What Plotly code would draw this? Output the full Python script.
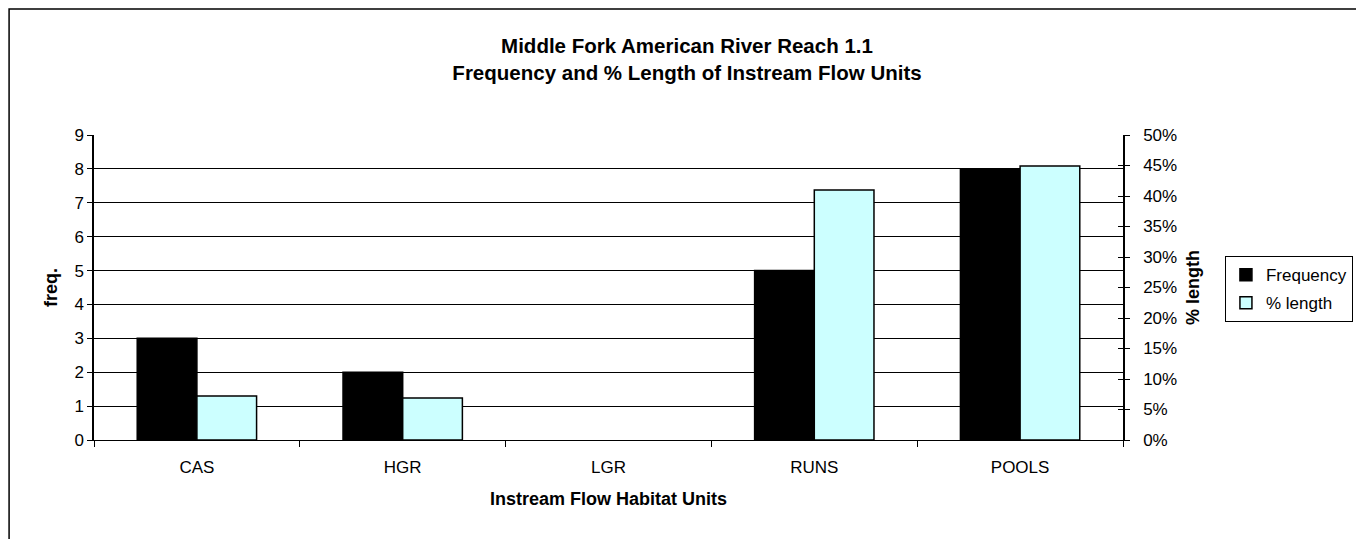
import plotly.graph_objects as go

categories = ["CAS", "HGR", "LGR", "RUNS", "POOLS"]
frequency = [3, 2, 0, 5, 8]
pct_length = [0.072, 0.069, 0.0, 0.410, 0.449]

freq_ticks = list(range(0, 10))
pct_ticks = [i * 0.05 for i in range(0, 11)]

FONT = "Liberation Sans, Arial, sans-serif"
W, H = 1356, 531
L, R, T, B = 86, 240, 127, 99
PW, PH = W - L - R, H - T - B


def outline(vals):
    return [0 if v == 0 else 1.5 for v in vals]


fig = go.Figure()
fig.add_trace(go.Bar(
    x=categories, y=frequency, name="Frequency",
    marker=dict(color="#000000", line=dict(color="#000000", width=outline(frequency))),
    width=0.29, offset=-0.29, yaxis="y", legendgroup="a",
))
fig.add_trace(go.Bar(
    x=categories, y=pct_length, name="% length",
    marker=dict(color="#CCFFFF", line=dict(color="#000000", width=outline(pct_length))),
    width=0.29, offset=0.0, yaxis="y2", legendgroup="b",
))
# invisible helper trace so the third axis (inside half of the cross ticks) renders
fig.add_trace(go.Bar(x=categories, y=[0] * len(categories), yaxis="y3", showlegend=False,
                     hoverinfo="skip", marker=dict(color="rgba(0,0,0,0)", line=dict(width=0))))

fig.update_layout(
    width=W, height=H,
    margin=dict(l=L, r=R, t=T, b=B),
    paper_bgcolor="white", plot_bgcolor="white",
    font=dict(family=FONT, size=17, color="#000000"),
    title=dict(
        text="<b>Middle Fork American River Reach 1.1<br>Frequency and % Length of Instream Flow Units</b>",
        x=(687 - 8) / W, xanchor="center", xref="container",
        y=1 - 45 / H, yanchor="middle", yref="container",
        font=dict(family=FONT, size=20.5, color="#000000"),
    ),
    barmode="overlay",
    showlegend=True,
    legend=dict(
        x=1.098, y=0.603, xanchor="left", yanchor="top",
        bordercolor="#000000", borderwidth=1, bgcolor="white",
        font=dict(family=FONT, size=17), tracegroupgap=3,
        itemwidth=30,
    ),
    xaxis=dict(
        type="category", categoryorder="array", categoryarray=categories,
        showgrid=False, showline=True, linecolor="#000000", linewidth=1,
        ticks="outside", ticklen=6, tickcolor="#000000", tickson="boundaries",
        ticklabelstandoff=12,
        tickfont=dict(family=FONT, size=17),
        title=dict(text="<b>Instream Flow Habitat Units</b>", standoff=15,
                   font=dict(family=FONT, size=18)),
        zeroline=False,
    ),
    yaxis=dict(
        range=[0, 9], tickvals=freq_ticks, showgrid=True, gridcolor="#000000", gridwidth=1,
        showline=True, linecolor="#000000", linewidth=1.5,
        ticks="outside", ticklen=5, tickcolor="#000000",
        tickfont=dict(family=FONT, size=17),
        title=dict(text="<b>freq.</b>", standoff=12, font=dict(family=FONT, size=18)),
        zeroline=False,
    ),
    yaxis2=dict(
        range=[0, 0.5], tickvals=pct_ticks, tickformat=".0%", overlaying="y", side="right",
        showgrid=False, showline=True, linecolor="#000000", linewidth=1.5,
        ticks="outside", ticklen=5, tickcolor="#000000",
        ticklabelstandoff=10,
        tickfont=dict(family=FONT, size=17),
        title=dict(text="<b>% length</b>", standoff=10, font=dict(family=FONT, size=18)),
        zeroline=False,
    ),
    yaxis3=dict(
        range=[0, 0.5], tickvals=pct_ticks, overlaying="y", side="right", anchor="x",
        showgrid=False, showline=False, showticklabels=False,
        ticks="inside", ticklen=5, tickcolor="#000000", zeroline=False,
    ),
    shapes=[dict(
        type="rect", xref="paper", yref="paper",
        x0=(1 - L) / PW, x1=(1354 - L) / PW,
        y0=-(H + 10 - (H - B)) / PH, y1=((H - B) - 1) / PH,
        line=dict(color="#000000", width=1.5), fillcolor="rgba(0,0,0,0)", layer="below",
    )],
)

fig.write_html("out.html")
